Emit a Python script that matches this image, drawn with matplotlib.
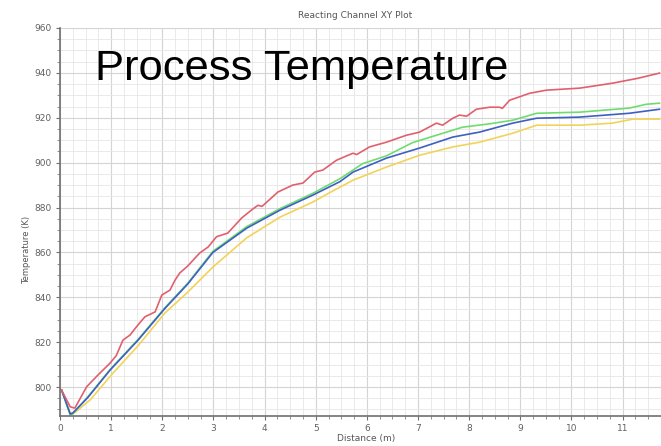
import numpy as np
import matplotlib
matplotlib.use("Agg")
import matplotlib.pyplot as plt
from matplotlib.ticker import MultipleLocator

# temperature profiles along the reacting channel (K vs m)
red_x = [0.03, 0.2, 0.29, 0.52, 0.74, 0.98, 1.1, 1.23, 1.37, 1.5, 1.66, 1.86, 1.99, 2.15, 2.25,
         2.34, 2.5, 2.73, 2.9, 3.06, 3.28, 3.55, 3.75, 3.87, 3.95, 4.26, 4.55, 4.75, 4.98, 5.14,
         5.4, 5.6, 5.73, 5.8, 6.05, 6.38, 6.77, 7.03, 7.36, 7.48, 7.68, 7.81, 7.95, 8.14, 8.4,
         8.59, 8.65, 8.79, 9.18, 9.51, 10.16, 10.8, 11.3, 11.72]
red_t = [798.7, 791.2, 790.6, 800.1, 805.3, 810.7, 814.0, 820.9, 823.2, 827.0, 831.3, 833.5, 841.0,
         843.2, 847.7, 850.8, 854.0, 859.7, 862.5, 867.0, 868.6, 875.3, 879.0, 881.0, 880.5,
         886.9, 890.0, 890.9, 895.8, 896.7, 901.0, 903.0, 904.2, 903.6, 907.0, 909.1, 912.2,
         913.6, 917.6, 916.7, 919.8, 921.2, 920.7, 923.8, 924.7, 924.7, 924.2, 927.8, 930.9,
         932.3, 933.2, 935.4, 937.6, 939.9]

green_x = [0.03, 0.2, 0.25, 0.55, 0.98, 1.53, 2.05, 2.5, 2.99, 3.65, 4.3, 4.94, 5.47, 5.92, 6.38,
           6.89, 7.4, 7.87, 8.4, 8.85, 9.32, 10.16, 11.13, 11.46, 11.72]
green_t = [798.7, 787.5, 788.0, 795.8, 807.8, 821.3, 835.3, 846.3, 860.5, 871.5, 879.5, 886.3,
           892.8, 899.6, 903.0, 908.9, 912.5, 915.8, 917.3, 918.9, 922.0, 922.5, 924.3, 926.0,
           926.5]

blue_x = [0.03, 0.2, 0.25, 0.55, 0.98, 1.53, 2.05, 2.5, 2.99, 3.65, 4.3, 4.94, 5.47, 5.73, 6.38,
          7.03, 7.68, 8.2, 8.85, 9.32, 10.16, 11.13, 11.72]
blue_t = [798.7, 788.0, 788.4, 795.5, 807.6, 821.0, 835.0, 846.0, 860.0, 870.8, 878.8, 885.5,
          891.5, 895.8, 902.0, 906.5, 911.4, 913.6, 917.6, 919.8, 920.3, 922.0, 923.8]

yellow_x = [0.03, 0.2, 0.3, 0.6, 1.0, 1.53, 2.05, 2.48, 2.99, 3.65, 4.3, 4.94, 5.27, 5.73, 6.38,
            7.03, 7.68, 8.2, 8.85, 9.32, 10.16, 10.8, 11.2, 11.72]
yellow_t = [798.7, 788.5, 788.8, 794.5, 805.3, 818.5, 833.0, 841.9, 853.5, 866.5, 875.7, 882.4,
            886.6, 892.2, 898.0, 903.3, 907.0, 909.1, 913.1, 916.7, 916.7, 917.6, 919.4, 919.4]

fig = plt.figure(figsize=(6.61, 4.46), dpi=100)
ax = fig.add_axes([60 / 661, 30 / 446, 1 - 60 / 661, 388 / 446])

ax.plot(yellow_x, yellow_t, color="#f2d35a", lw=1.2)
ax.plot(green_x, green_t, color="#6fdc6f", lw=1.2)
ax.plot(blue_x, blue_t, color="#3f5fc4", lw=1.2)
ax.plot(red_x, red_t, color="#e0606e", lw=1.2)

ax.set_xlim(0, 11.75)
ax.set_ylim(787.1, 960)
ax.xaxis.set_major_locator(MultipleLocator(1))
ax.xaxis.set_minor_locator(MultipleLocator(0.25))
ax.yaxis.set_major_locator(MultipleLocator(20))
ax.yaxis.set_minor_locator(MultipleLocator(5))
ax.grid(which="major", color="#d4d4d4", lw=0.8)
ax.grid(which="minor", color="#e6e6e6", lw=0.6)
ax.set_axisbelow(True)

for side in ("top", "right"):
    ax.spines[side].set_visible(False)
for side in ("left", "bottom"):
    ax.spines[side].set_color("#707070")
    ax.spines[side].set_linewidth(1.2)

ax.tick_params(which="major", length=3, color="#707070", labelsize=6.5,
               labelcolor="#606060", pad=3)
ax.tick_params(which="minor", length=2, color="#808080")

fig.text(355 / 661, 1 - 15 / 446, "Reacting Channel XY Plot", ha="center", va="center",
         fontsize=6.5, color="#555555")
fig.text(27 / 661, 1 - 250 / 446, "Temperature (K)", rotation=90, ha="center", va="center",
         fontsize=6, color="#555555")
fig.text(337 / 661, 1 - 438 / 446, "Distance (m)", ha="left", va="center",
         fontsize=6.5, color="#555555")
fig.text(95 / 661, 1 - 69 / 446, "Process Temperature", ha="left", va="center",
         fontsize=31.3, family="Liberation Sans", color="black")

fig.savefig("out.png", dpi=100)
